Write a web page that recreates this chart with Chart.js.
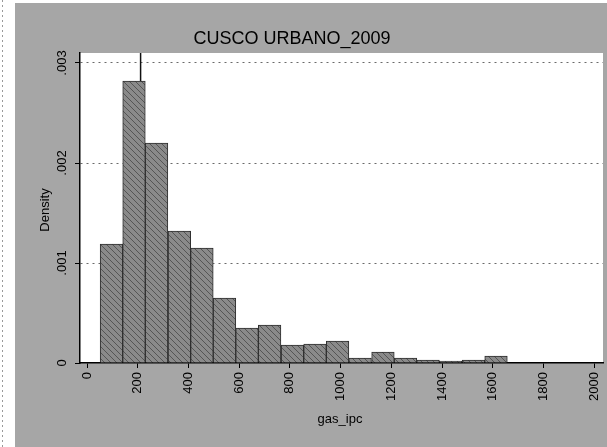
<!DOCTYPE html>
<html>
<head>
<meta charset="utf-8">
<script src="https://cdn.jsdelivr.net/npm/chart.js@4.4.0/dist/chart.umd.min.js"></script>
<style>
	html, body { margin: 0; padding: 0; background: #fff; }
	#wrap { width: 607px; height: 447px; }
</style>
</head>
<body>
<div id="wrap"><canvas id="hist"></canvas></div>
<script>
// histogram of gas_ipc (bin centers and densities)
const binCenters = [96, 185, 274, 364, 453, 542, 631, 720, 810, 899, 988, 1077, 1167, 1256, 1345, 1434, 1524, 1613];
const densities = [0.00119, 0.00282, 0.0022, 0.00132, 0.00115, 0.00065, 0.00035, 0.00038, 0.00018, 0.00019, 0.00022, 0.00005, 0.00011, 0.00005, 0.00003, 0.00002, 0.00003, 0.00007];

const xTicks = [0, 200, 400, 600, 800, 1000, 1200, 1400, 1600, 1800, 2000];
const yTicks = [0, 0.001, 0.002, 0.003];
const yTickLabels = ["0", ".001", ".002", ".003"];

// the thin vertical mark above the tallest bar
const markerX = [211, 211];
const markerY = [0.00282, 0.0031];

const titleText = "CUSCO URBANO_2009";
const xTitle = "gas_ipc";
const yTitle = "Density";

const font = "'Liberation Sans', Arial, sans-serif";

function hatchPattern() {
	const c = document.createElement("canvas");
	c.width = 6;
	c.height = 6;
	const g = c.getContext("2d");
	g.fillStyle = "#8a8a8a";
	g.fillRect(0, 0, 6, 6);
	g.strokeStyle = "#555";
	g.lineWidth = 1;
	g.beginPath();
	g.moveTo(0, 0);
	g.lineTo(6, 6);
	g.stroke();
	return g.createPattern(c, "repeat");
}

const ctx = document.getElementById("hist").getContext("2d");

const decorations = {
	id: "decorations",
	beforeDraw(chart) {
		const c = chart.ctx;
		const a = chart.chartArea;
		c.save();
		c.fillStyle = "#fff";
		c.fillRect(0, 0, chart.width, chart.height);
		c.fillStyle = "#a6a6a6";
		c.fillRect(15, 3, chart.width - 15, chart.height - 3);
		c.strokeStyle = "#999";
		c.setLineDash([2, 3]);
		c.beginPath();
		c.moveTo(2.5, 0);
		c.lineTo(2.5, chart.height);
		c.stroke();
		c.setLineDash([]);
		c.fillStyle = "#fff";
		c.fillRect(a.left, a.top, a.right - a.left, a.bottom - a.top);
		c.restore();
	},
	afterDraw(chart) {
		const c = chart.ctx;
		const x = chart.scales.x;
		const y = chart.scales.y;
		c.save();
		c.fillStyle = "#000";
		c.textAlign = "center";
		c.textBaseline = "middle";

		c.font = "18px " + font;
		c.fillText(titleText, 292, 39);

		c.font = "13px " + font;
		yTicks.forEach((v, i) => {
			c.save();
			c.translate(62, y.getPixelForValue(v));
			c.rotate(-Math.PI / 2);
			c.fillText(yTickLabels[i], 0, 0);
			c.restore();
		});

		c.textAlign = "right";
		xTicks.forEach((v) => {
			c.save();
			c.translate(x.getPixelForValue(v), 372);
			c.rotate(-Math.PI / 2);
			c.fillText(String(v), 0, 0);
			c.restore();
		});
		c.textAlign = "center";

		c.save();
		c.translate(45, 210);
		c.rotate(-Math.PI / 2);
		c.fillText(yTitle, 0, 0);
		c.restore();

		c.fillText(xTitle, 340, 419);
		c.restore();
	},
};

new Chart(ctx, {
	type: "bar",
	data: {
		datasets: [
			{
				type: "bar",
				data: binCenters.map((x, i) => ({ x: x, y: densities[i] })),
				backgroundColor: hatchPattern(),
				borderColor: "#2e2e2e",
				borderWidth: 1,
				barPercentage: 1,
				categoryPercentage: 1,
			},
			{
				type: "line",
				data: markerX.map((x, i) => ({ x: x, y: markerY[i] })),
				borderColor: "#111",
				borderWidth: 1.5,
				pointRadius: 0,
			},
		],
	},
	options: {
		responsive: true,
		maintainAspectRatio: false,
		animation: false,
		layout: { padding: { top: 53, right: 4, left: 0, bottom: 0 } },
		plugins: {
			legend: { display: false },
			tooltip: { enabled: false },
		},
		scales: {
			x: {
				type: "linear",
				min: -28,
				max: 2035,
				offset: false,
				afterBuildTicks: (scale) => {
					scale.ticks = xTicks.map((v) => ({ value: v }));
				},
				afterFit: (scale) => {
					scale.height = 84;
				},
				border: { color: "#000", width: 1.5 },
				grid: { offset: false, drawOnChartArea: false, tickLength: 5, tickColor: "#000" },
				ticks: { display: false },
			},
			y: {
				min: 0,
				max: 0.0031,
				afterBuildTicks: (scale) => {
					scale.ticks = yTicks.map((v) => ({ value: v }));
				},
				afterFit: (scale) => {
					scale.width = 80;
				},
				border: { color: "#000", width: 1.5, dash: [2, 4] },
				grid: {
					color: (c) => (c.tick && c.tick.value === 0 ? "rgba(0,0,0,0)" : "#6a6a6a"),
					tickLength: 5,
					tickColor: "#000",
					tickBorderDash: [],
				},
				ticks: { display: false },
			},
		},
	},
	plugins: [decorations],
});
</script>
</body>
</html>
